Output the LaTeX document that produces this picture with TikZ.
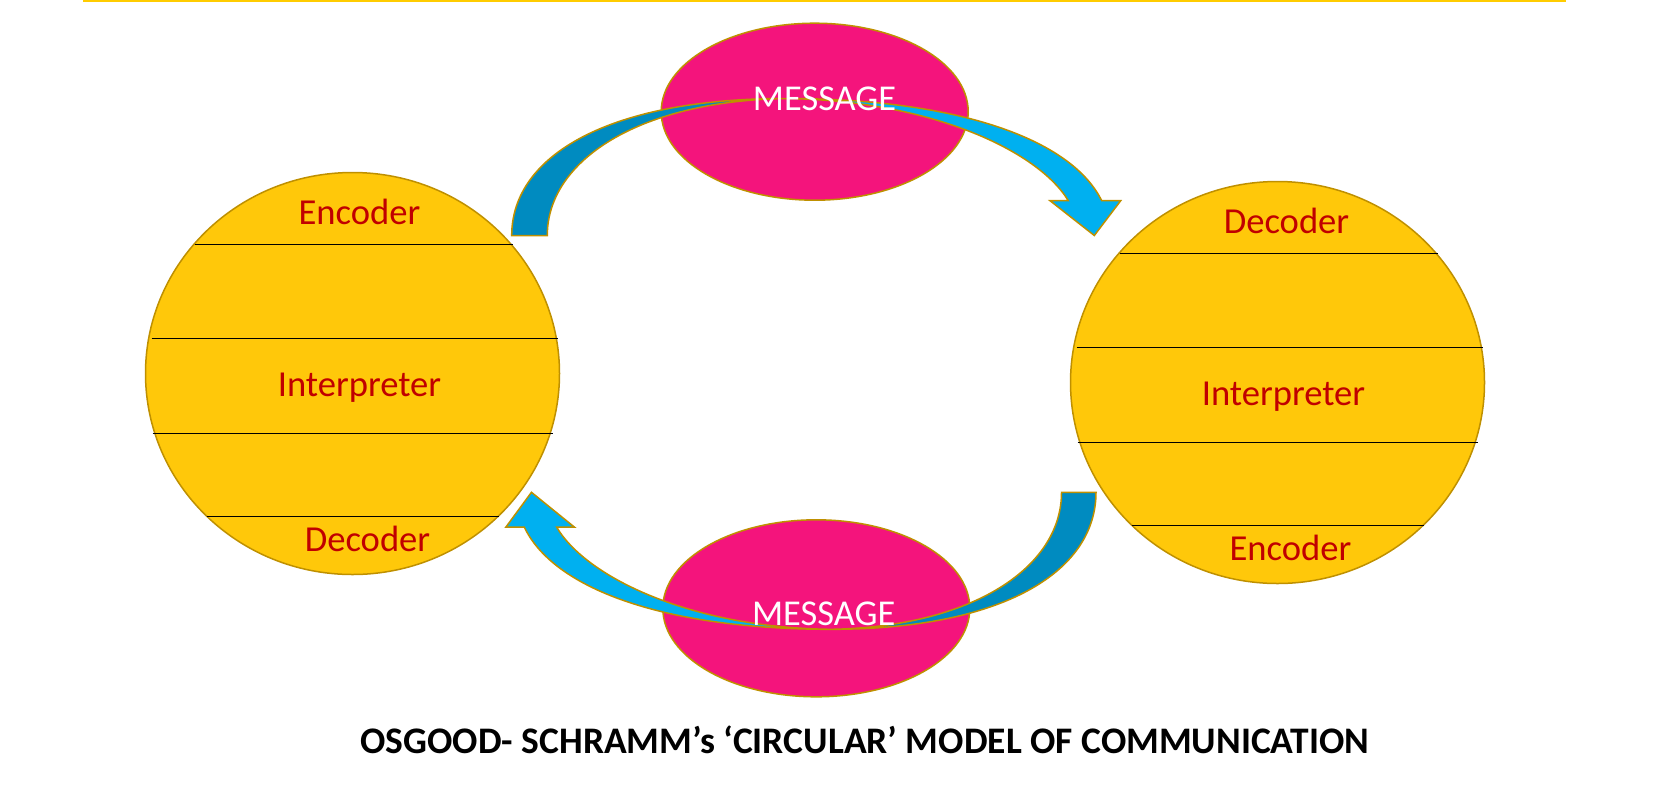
\documentclass[tikz,border=0pt]{standalone}
\usepackage{fontspec}
\setmainfont{Carlito}
\usetikzlibrary{shapes.geometric}

\definecolor{goldline}{RGB}{191,144,0}
\definecolor{sunflower}{RGB}{255,200,10}
\definecolor{barcol}{RGB}{255,204,0}
\definecolor{msgpink}{RGB}{244,20,124}
\definecolor{deepblue}{RGB}{0,139,192}
\definecolor{skyblue}{RGB}{0,176,240}
\definecolor{layerred}{RGB}{192,0,0}

\newcommand{\msgarrow}{%
  \filldraw[band,fill=deepblue] (0,0) .. controls (0,-80.5) and (98.3,-137) .. (273.3,-137)
    .. controls (128.3,-134.5) and (35.6,-75.5) .. (35.6,0) -- cycle;
  \filldraw[band,fill=skyblue] (273.3,-137) .. controls (448.3,-137) and (560.3,-95.5) .. (590,-34.8)
    -- (609,-34.8) -- (582.6,0) -- (538.3,-34.8) -- (556.6,-34.8)
    .. controls (526.3,-84.8) and (418.3,-135.5) .. (273.3,-137) -- cycle;
}

\begin{document}
\begin{tikzpicture}[x=1pt,y=-1pt]
\tikzstyle{party}=[ellipse,draw=goldline,line width=1.5pt,fill=sunflower,minimum width=414pt,minimum height=402pt,inner sep=0pt]
\tikzstyle{msg}=[ellipse,draw=goldline,line width=1.5pt,fill=msgpink,minimum width=307pt,minimum height=177pt,inner sep=0pt]
\tikzstyle{layer}=[text=layerred,font=\fontsize{36.6}{40}\selectfont,anchor=base,inner sep=0pt]
\tikzstyle{msgtxt}=[text=white,font=\fontsize{36.4}{40}\selectfont,anchor=base,inner sep=0pt]
\tikzstyle{band}=[draw=goldline,line width=1.5pt,line join=miter]

\useasboundingbox (0,0) rectangle (1677,788);
\draw[barcol,line width=2pt] (83,1) -- (1566,1);

\node[party] (S) at (352.5,373.5) {};
\node[party] (R) at (1277.5,382.5) {};

\foreach \dy/\l/\r in {-129/158/160,-35/201/205,60/200/200,143/146/146}{
  \draw[line width=1pt] ([shift={(-\l,\dy)}]S.center) -- ([shift={(\r,\dy)}]S.center);
  \draw[line width=1pt] ([shift={(-\l,\dy)}]R.center) -- ([shift={(\r,\dy)}]R.center);
}

\node[layer] (Senc) at ([shift={(7,-149)}]S.center) {Encoder};
\node[layer] (Sint) at ([shift={(7,23)}]S.center) {Interpreter};
\node[layer] (Sdec) at ([shift={(15,178)}]S.center) {Decoder};
\node[layer] (Rdec) at ([shift={(9,-149)}]R.center) {Decoder};
\node[layer] (Rint) at ([shift={(6,23)}]R.center) {Interpreter};
\node[layer] (Renc) at ([shift={(13,178)}]R.center) {Encoder};

\node[msg] (M1) at (814.7,111.7) {};
\node[msg] (M2) at (816.3,608.3) {};

\begin{scope}[shift={(511.7,235.5)}]
\msgarrow
\end{scope}
\begin{scope}[shift={(1096,492.3)},rotate=180,xscale=0.969]
\msgarrow
\end{scope}

\node[msgtxt] (M1t) at (824.6,110) {MESSAGE};
\node[msgtxt] (M2t) at (823.7,625) {MESSAGE};

\node[font=\fontsize{37.5}{42}\selectfont\bfseries,anchor=base,inner sep=0pt] (title) at (865,753)
  {OSGOOD- SCHRAMM’s ‘CIRCULAR’ MODEL OF COMMUNICATION};
\end{tikzpicture}
\end{document}
